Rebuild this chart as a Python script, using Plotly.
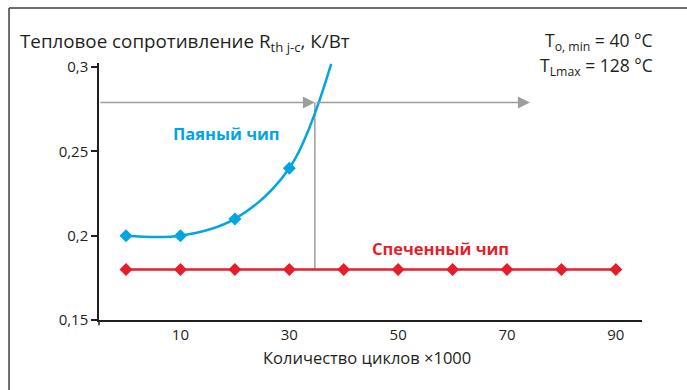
import plotly.graph_objects as go

# Data
solder_x = [0, 10, 20, 30]
solder_y = [0.20, 0.20, 0.21, 0.24]
solder_curve_x = [0, 10, 20, 30, 37.7]
solder_curve_y = [0.20, 0.20, 0.21, 0.24, 0.302]
sinter_x = [0, 10, 20, 30, 40, 50, 60, 70, 80, 90]
sinter_y = [0.18] * 10
y_ticks = [0.15, 0.2, 0.25, 0.3]
y_ticktext = ["0,15", "0,2", "0,25", "0,3"]
x_ticks = [10, 30, 50, 70, 90]
x_ticktext = ["10", "30", "50", "70", "90"]
cross_x, cross_y = 34.7, 0.279
arrow2_x = 74.2
axis_x0 = -4.96

BLUE = "#00a6e2"
RED = "#e61e2b"
GRAY = "#9d9d9c"
DARK = "#231f20"
FONT = "Open Sans"

fig = go.Figure()
fig.add_trace(go.Scatter(x=solder_curve_x, y=solder_curve_y, mode="lines",
                         line=dict(color=BLUE, width=2.5, shape="spline", smoothing=1.0),
                         hoverinfo="skip", showlegend=False))
fig.add_trace(go.Scatter(x=solder_x, y=solder_y, mode="markers",
                         marker=dict(symbol="diamond", size=10, color=BLUE),
                         showlegend=False))
fig.add_trace(go.Scatter(x=sinter_x, y=sinter_y, mode="lines+markers",
                         line=dict(color=RED, width=2.5),
                         marker=dict(symbol="diamond", size=10, color=RED),
                         showlegend=False))

annotations = [
    dict(x=cross_x, y=cross_y, ax=axis_x0, ay=cross_y, xref="x", yref="y", axref="x", ayref="y",
         text="", showarrow=True, arrowhead=2, arrowsize=1.6, arrowwidth=1.5, arrowcolor=GRAY),
    dict(x=arrow2_x, y=cross_y, ax=cross_x, ay=cross_y, xref="x", yref="y", axref="x", ayref="y",
         text="", showarrow=True, arrowhead=2, arrowsize=1.6, arrowwidth=1.5, arrowcolor=GRAY),
    dict(x=18.4, y=0.2609, xref="x", yref="y", text="<b>Паяный чип</b>", showarrow=False,
         font=dict(family=FONT, size=16.5, color=BLUE)),
    dict(x=57.7, y=0.1926, xref="x", yref="y", text="<b>Спеченный чип</b>", showarrow=False,
         font=dict(family=FONT, size=16.5, color=RED)),
    dict(x=-0.149, y=1.082, xref="paper", yref="paper", xanchor="left", yanchor="middle",
         text="Тепловое сопротивление R<sub>th j-c</sub>, К/Вт", showarrow=False,
         font=dict(family=FONT, size=18.8, color=DARK)),
    dict(x=1.024, y=1.082, xref="paper", yref="paper", xanchor="right", yanchor="middle",
         text="T<sub>o, min</sub> = 40 °C", showarrow=False,
         font=dict(family=FONT, size=17.5, color=DARK)),
    dict(x=1.024, y=0.988, xref="paper", yref="paper", xanchor="right", yanchor="middle",
         text="T<sub>Lmax</sub> = 128 °C", showarrow=False,
         font=dict(family=FONT, size=17.5, color=DARK)),
    dict(x=0.4936, y=-0.146, xref="paper", yref="paper", xanchor="center", yanchor="middle",
         text="Количество циклов ×1000", showarrow=False,
         font=dict(family=FONT, size=16.5, color=DARK)),
]

shapes = [
    dict(type="line", xref="x", yref="y", x0=cross_x, x1=cross_x, y0=cross_y, y1=sinter_y[0],
         line=dict(color=GRAY, width=1.5), layer="below"),
    # frame
    dict(type="line", xref="paper", yref="paper", x0=-0.1657, x1=-0.1657, y0=1.214, y1=-0.3,
         line=dict(color="#3c3c3b", width=1.5)),
    dict(type="line", xref="paper", yref="paper", x0=-0.1657, x1=1.1, y0=1.214, y1=1.214,
         line=dict(color="#3c3c3b", width=1.5)),
    # small axis extensions at origin
    dict(type="line", xref="paper", yref="paper", x0=0, x1=0, y0=0, y1=-0.02,
         line=dict(color=DARK, width=1.5)),
    dict(type="line", xref="paper", yref="paper", x0=0, x1=-0.011, y0=0, y1=0,
         line=dict(color=DARK, width=1.5)),
]

fig.update_layout(
    width=687, height=390,
    margin=dict(l=99, r=45, t=63, b=70),
    paper_bgcolor="white", plot_bgcolor="white",
    font=dict(family=FONT, size=15, color=DARK),
    xaxis=dict(range=[axis_x0, 94.8], showgrid=False, zeroline=False, showline=True,
               linecolor=DARK, linewidth=1.5, tickvals=x_ticks, ticktext=x_ticktext,
               ticks="", tickfont=dict(size=15), fixedrange=True),
    yaxis=dict(range=[0.15, 0.3025], showgrid=False, zeroline=False, showline=True,
               linecolor=DARK, linewidth=1.5, tickvals=y_ticks, ticktext=y_ticktext,
               ticks="outside", ticklen=6, tickwidth=1.5, tickcolor=DARK,
               tickfont=dict(size=15), fixedrange=True),
    annotations=annotations,
    shapes=shapes,
    showlegend=False,
)

fig.write_html("out.html", config={"displayModeBar": False},
               post_script="document.body.style.margin='0';document.body.style.padding='0';")
